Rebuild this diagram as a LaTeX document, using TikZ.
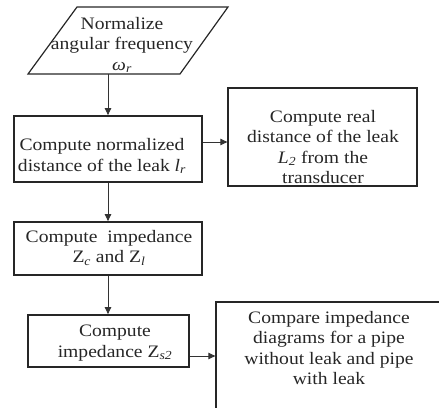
\documentclass[tikz,border=0pt]{standalone}
\usepackage{fontspec}
\setmainfont{Liberation Serif}[FakeStretch=1.12]
\usetikzlibrary{arrows.meta}
\begin{document}
\begin{tikzpicture}[x=1pt,y=-1pt,
  boxA/.style={draw=black!85, line width=1.8pt, inner sep=0pt},
  boxB/.style={draw=black!85, line width=1.3pt, inner sep=0pt},
  paraline/.style={draw=black!85, line width=1.2pt, line join=miter},
  txt/.style={align=center, font=\fontsize{17.5}{20.5}\selectfont, text=black!85, inner sep=0pt},
  arr/.style={draw=black!80, line width=0.9pt, -{Triangle[length=7pt,width=6.5pt]}},
]
\useasboundingbox (0,0) rectangle (439,407);
\clip (0,0) rectangle (439,407);

% parallelogram (input)
\coordinate (pTL) at (77,7);
\coordinate (pTR) at (228,7);
\coordinate (pBR) at (180,74);
\coordinate (pBL) at (28,74);
\coordinate (pbot) at (108,74);
\draw[paraline] (pTL) -- (pTR) -- (pBR) -- (pBL) -- cycle;
\node[txt] (t0) at (122,45) {Normalize\\angular frequency\\{\itshape ω}\textsubscript{\itshape r}};

% boxes
\node[boxA, minimum width=188pt, minimum height=66pt] (b1) at (108,149) {};
\node[boxB, minimum width=189pt, minimum height=98pt] (b2) at (322.5,137) {};
\node[boxA, minimum width=188pt, minimum height=53pt] (b3) at (108,248.5) {};
\node[boxA, minimum width=161pt, minimum height=52pt] (b4) at (108.5,341) {};
\node[boxB, minimum width=229pt, minimum height=118pt] (b5) at (330.5,361) {};

% texts
\node[txt] (t1) at (102,156) {Compute normalized\\distance of the leak {\itshape l}\textsubscript{\itshape r}};
\node[txt] (t2) at (323,147) {Compute real\\distance of the leak\\{\itshape L}\textsubscript{\itshape 2} from the\\transducer};
\node[txt] (t3) at (109,248) {Compute\ \ impedance\\Z\textsubscript{\itshape c} and Z\textsubscript{\itshape l}};
\node[txt] (t4) at (115,343) {Compute\\impedance Z\textsubscript{\itshape s2}};
\node[txt] (t5) at (329,348) {Compare impedance\\diagrams for a pipe\\without leak and pipe\\with leak};

% connectors
\draw[arr] (pbot) -- (pbot |- b1.north);
\path ([yshift=7pt]b1.east) coordinate (a1);
\draw[arr] (a1) -- (a1 -| b2.west);
\draw[arr] (b1.south) -- (b3.north);
\draw[arr] (b3.south) -- (b3.south |- b4.north);
\path ([yshift=-15pt]b4.east) coordinate (a4);
\draw[arr] (a4) -- (a4 -| b5.west);
\end{tikzpicture}
\end{document}
